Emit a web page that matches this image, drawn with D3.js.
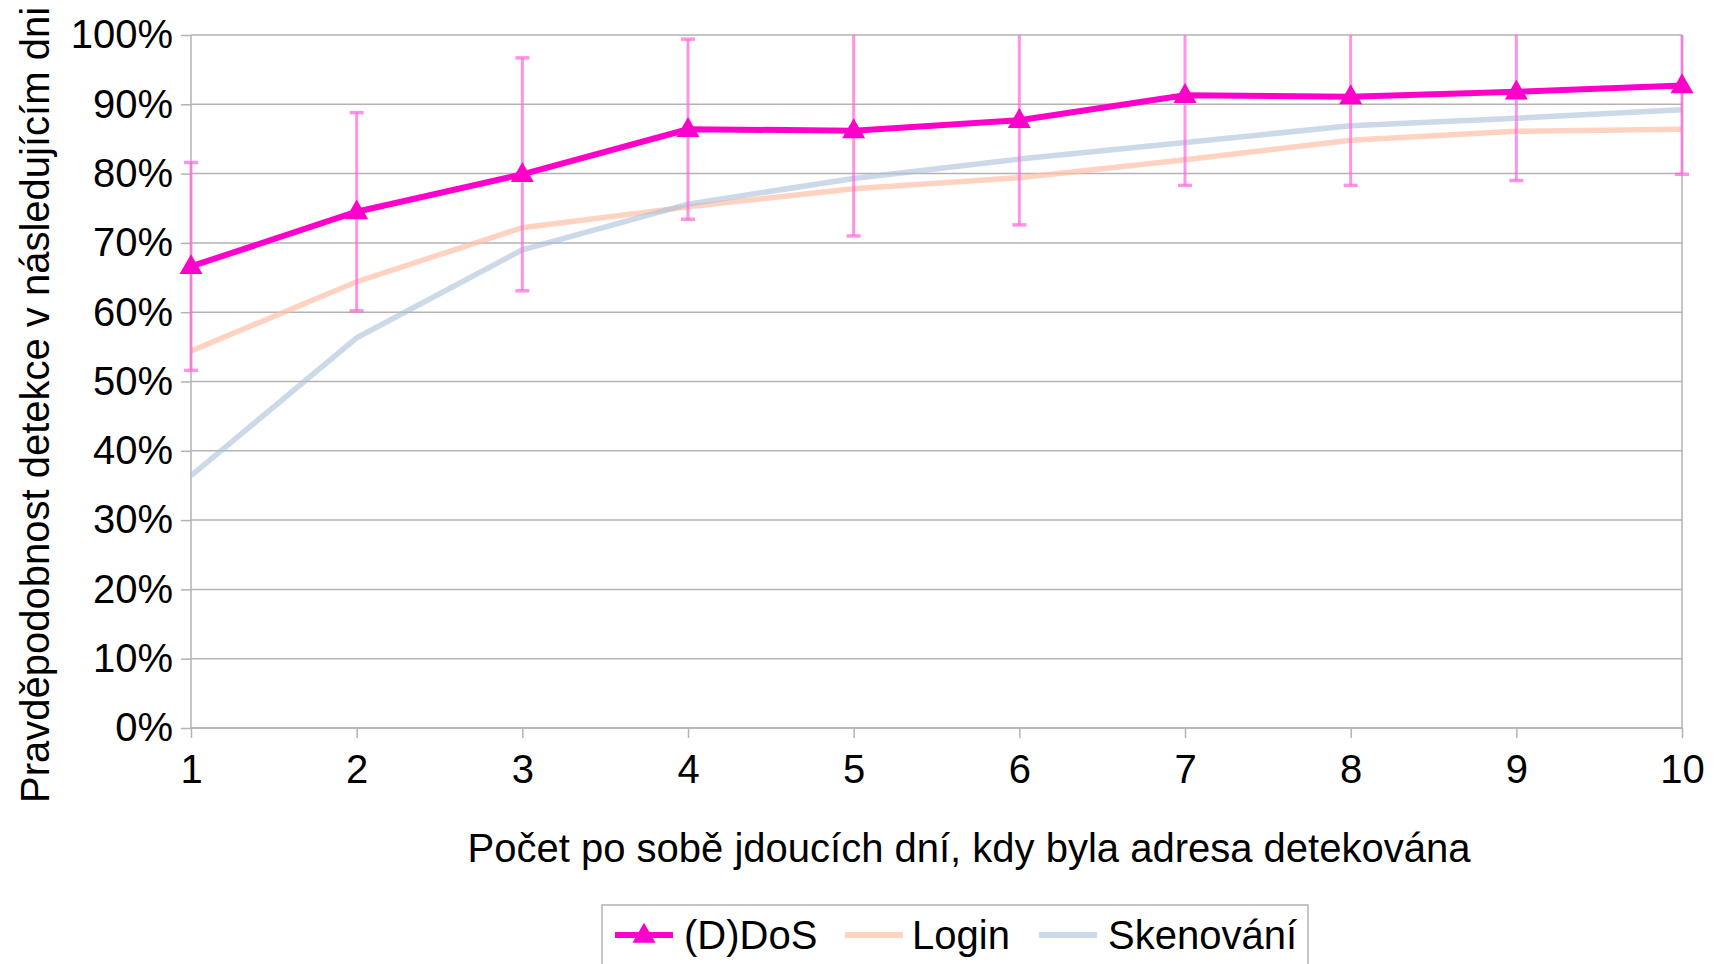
<!DOCTYPE html>
<html>
<head>
<meta charset="utf-8">
<script src="https://cdn.jsdelivr.net/npm/d3@7"></script>
<style>
  body { margin: 0; background: #fff; }
  svg { display: block; font-family: 'Liberation Sans', Arial, sans-serif; }
</style>
</head>
<body>
<div id="chart"></div>
<script>
// data
const days = [1, 2, 3, 4, 5, 6, 7, 8, 9, 10];
const ddos = [66.6, 74.5, 79.9, 86.4, 86.2, 87.7, 91.3, 91.1, 91.8, 92.7];
const ddosErr = [15.0, 14.3, 16.8, 13.0, 15.2, 15.1, 13.0, 12.8, 12.8, 12.8];
const login = [54.4, 64.4, 72.2, 75.2, 77.8, 79.4, 82.0, 84.8, 86.1, 86.4];
const skenovani = [36.4, 56.3, 69.0, 75.6, 79.3, 82.1, 84.5, 86.9, 88.0, 89.2];
const yTicks = [0, 10, 20, 30, 40, 50, 60, 70, 80, 90, 100];

const W = 1719, H = 964;
let margin = { top: 35, right: 37, bottom: 236, left: 191 },
    width = W - margin.left - margin.right,
    height = H - margin.top - margin.bottom;

const svg = d3.select("#chart").append("svg")
    .attr("width", W)
    .attr("height", H);

const g = svg.append("g")
    .attr("transform", "translate(" + margin.left + "," + margin.top + ")");

const x = d3.scaleLinear().domain([1, 10]).range([0, width]);
const y = d3.scaleLinear().domain([0, 100]).range([height, 0]);

svg.append("defs").append("clipPath").attr("id", "plotclip")
    .append("rect").attr("x", -20).attr("y", 0).attr("width", width + 40).attr("height", height);

// grid lines
g.selectAll(".grid").data(yTicks).enter().append("line")
    .attr("x1", 0).attr("x2", width)
    .attr("y1", d => y(d)).attr("y2", d => y(d))
    .attr("stroke", "#b3b3b3").attr("stroke-width", 1.5);

// y axis
const yAxis = g.append("g")
    .call(d3.axisLeft(y).tickValues(yTicks).tickSize(10).tickPadding(8).tickFormat(d => d + "%"));
yAxis.selectAll("text").style("font-size", "40px").style("font-family", "'Liberation Sans', Arial, sans-serif").attr("fill", "#000");
yAxis.selectAll("line").attr("stroke", "#b3b3b3").attr("stroke-width", 1.5);
yAxis.select(".domain").attr("stroke", "#b3b3b3").attr("stroke-width", 1.5).attr("d", "M0,0V" + height);

// right border
g.append("line").attr("x1", width).attr("x2", width).attr("y1", 0).attr("y2", height)
    .attr("stroke", "#b3b3b3").attr("stroke-width", 1.5);

// x axis
const xAxis = g.append("g")
    .attr("transform", "translate(0," + height + ")")
    .call(d3.axisBottom(x).tickValues(days).tickSize(10).tickPadding(17).tickFormat(d3.format("d")));
xAxis.selectAll("text").style("font-size", "40px").style("font-family", "'Liberation Sans', Arial, sans-serif").attr("fill", "#000");
xAxis.selectAll("line").attr("stroke", "#b3b3b3").attr("stroke-width", 1.5);
xAxis.select(".domain").attr("stroke", "#b3b3b3").attr("stroke-width", 1.5).attr("d", "M0,0H" + width);

const line = d3.line().x((d, i) => x(days[i])).y(d => y(d));

const plot = g.append("g").attr("clip-path", "url(#plotclip)");

// Login and Skenovani lines
plot.append("path").datum(login)
    .attr("d", line).attr("fill", "none")
    .attr("stroke", "#ffbfa8").attr("stroke-opacity", 0.7).attr("stroke-width", 5.5);
plot.append("path").datum(skenovani)
    .attr("d", line).attr("fill", "none")
    .attr("stroke", "#a9c0d8").attr("stroke-opacity", 0.6).attr("stroke-width", 5.5);

// error bars
const errs = plot.selectAll(".err").data(ddos).enter().append("g").attr("class", "err");
errs.append("line")
    .attr("x1", (d, i) => x(days[i])).attr("x2", (d, i) => x(days[i]))
    .attr("y1", (d, i) => y(d + ddosErr[i])).attr("y2", (d, i) => y(d - ddosErr[i]))
    .attr("stroke", "#ff66dd").attr("stroke-opacity", 0.7).attr("stroke-width", 3);
errs.filter((d, i) => d + ddosErr[i] <= 100).append("line")
    .attr("x1", (d, i) => x(days[i]) - 7).attr("x2", (d, i) => x(days[i]) + 7)
    .attr("y1", (d, i) => y(d + ddosErr[i])).attr("y2", (d, i) => y(d + ddosErr[i]))
    .attr("stroke", "#ff66dd").attr("stroke-opacity", 0.7).attr("stroke-width", 3.5);
errs.append("line")
    .attr("x1", (d, i) => x(days[i]) - 7).attr("x2", (d, i) => x(days[i]) + 7)
    .attr("y1", (d, i) => y(d - ddosErr[i])).attr("y2", (d, i) => y(d - ddosErr[i]))
    .attr("stroke", "#ff66dd").attr("stroke-opacity", 0.7).attr("stroke-width", 3.5);

// DDoS line and markers
g.append("path").datum(ddos)
    .attr("d", line).attr("fill", "none")
    .attr("stroke", "#ff00cc").attr("stroke-width", 6).attr("stroke-linejoin", "round");

const tri = d3.symbol().type(d3.symbolTriangle).size(230);
g.selectAll(".mk").data(ddos).enter().append("path")
    .attr("d", tri)
    .attr("transform", (d, i) => "translate(" + x(days[i]) + "," + (y(d) + 1) + ")")
    .attr("fill", "#ff00cc");

// axis titles
svg.append("text")
    .attr("x", 969)
    .attr("y", 862)
    .attr("text-anchor", "middle")
    .style("font-size", "40px")
    .text("Počet po sobě jdoucích dní, kdy byla adresa detekována");

svg.append("text")
    .attr("transform", "translate(49," + 405 + ") rotate(-90)")
    .attr("text-anchor", "middle")
    .style("font-size", "40px")
    .text("Pravděpodobnost detekce v následujícím dni");

// legend
const legend = svg.append("g");
legend.append("rect")
    .attr("x", 602).attr("y", 905).attr("width", 706).attr("height", 80)
    .attr("fill", "#fff").attr("stroke", "#b3b3b3").attr("stroke-width", 1.5);

const legItems = [
    { name: "(D)DoS", color: "#ff00cc", op: 1, lx: 615, tx: 684, marker: true },
    { name: "Login", color: "#ffbfa8", op: 0.7, lx: 845, tx: 912, marker: false },
    { name: "Skenování", color: "#a9c0d8", op: 0.6, lx: 1039, tx: 1108, marker: false }
];
const ly = 935;
legItems.forEach(function(it) {
    legend.append("line")
        .attr("x1", it.lx).attr("x2", it.lx + 58).attr("y1", ly).attr("y2", ly)
        .attr("stroke", it.color).attr("stroke-opacity", it.op).attr("stroke-width", 6);
    if (it.marker) {
        legend.append("path").attr("d", tri)
            .attr("transform", "translate(" + (it.lx + 29) + "," + (ly + 1) + ")")
            .attr("fill", it.color);
    }
    legend.append("text")
        .attr("x", it.tx).attr("y", ly + 14)
        .style("font-size", "40px")
        .text(it.name);
});
</script>
</body>
</html>
